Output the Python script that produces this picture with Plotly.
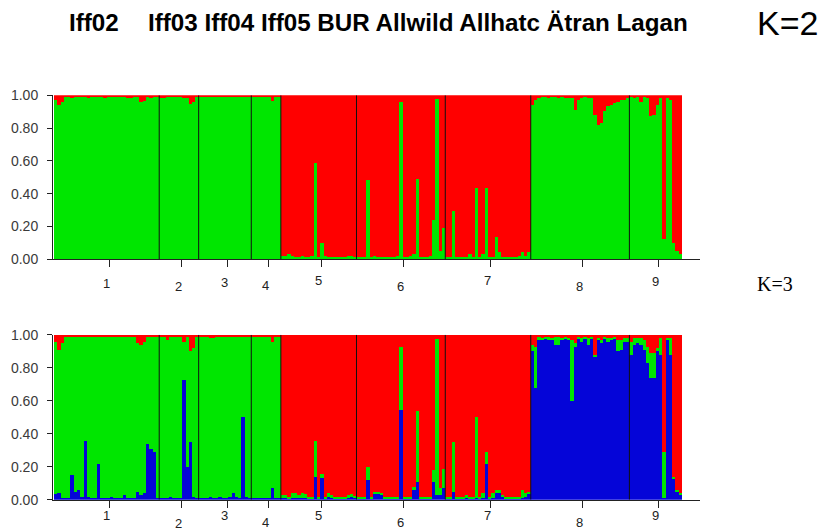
import plotly.graph_objects as go

# Population labels and sample sizes (individuals per population)
pop_labels = ["1", "2", "3", "4", "5", "6", "7", "8", "9"]
pop_sizes = [32, 12, 16, 9, 23, 27, 26, 30, 16]

# K=2: membership in the green cluster (red = remainder)
k2_green = [
    [0.97, 0.94, 0.96, 0.99, 0.99, 0.98, 0.99, 0.99, 0.99, 0.99,
     0.98, 0.99, 0.99, 0.99, 0.99, 0.98, 0.99, 0.99, 0.99, 0.99,
     0.99, 0.99, 0.98, 0.98, 0.99, 0.99, 0.96, 0.965, 0.99, 0.98,
     0.99, 0.99],
    [0.98, 0.98, 0.99, 0.99, 0.99, 0.99, 0.99, 0.98, 0.98, 0.945, 0.96, 0.99],
    [0.99, 0.99, 0.99, 0.985, 0.985, 0.99, 0.99, 0.99, 0.99, 0.99,
     0.99, 0.99, 0.99, 0.99, 0.99, 0.99],
    [0.99, 0.99, 0.99, 0.99, 0.99, 0.99, 0.965, 0.99, 0.99],
    [0.02, 0.02, 0.03, 0.02, 0.01, 0.01, 0.02, 0.01, 0.01, 0.02,
     0.585, 0.01, 0.10, 0.02, 0.01, 0.01, 0.01, 0.01, 0.01, 0.01,
     0.02, 0.02, 0.01],
    [0.01, 0.01, 0.01, 0.48, 0.01, 0.02, 0.01, 0.01, 0.01, 0.01,
     0.01, 0.01, 0.02, 0.96, 0.01, 0.01, 0.02, 0.03, 0.49, 0.01,
     0.01, 0.01, 0.02, 0.24, 0.975, 0.05, 0.19],
    [0.01, 0.01, 0.29, 0.01, 0.01, 0.01, 0.01, 0.03, 0.01, 0.43,
     0.01, 0.03, 0.43, 0.01, 0.01, 0.135, 0.04, 0.01, 0.01, 0.01,
     0.01, 0.01, 0.02, 0.04, 0.02, 0.045],
    [0.94, 0.97, 0.98, 0.99, 0.99, 0.98, 0.99, 0.99, 0.98, 0.99,
     0.98, 0.98, 0.98, 0.91, 0.97, 0.98, 0.99, 0.98, 0.98, 0.88,
     0.82, 0.83, 0.90, 0.93, 0.94, 0.95, 0.96, 0.97, 0.97, 0.98],
    [0.99, 0.98, 0.99, 0.96, 0.99, 0.98, 0.87, 0.88, 0.94, 0.98,
     0.12, 0.98, 0.97, 0.10, 0.05, 0.03],
]

# K=3: membership in the blue and green clusters (red = remainder)
k3_blue = [
    [0.035, 0.04, 0.01, 0.01, 0.01, 0.15, 0.05, 0.06, 0.02, 0.36,
     0.02, 0.01, 0.01, 0.22, 0.01, 0.01, 0.01, 0.02, 0.01, 0.01,
     0.01, 0.03, 0.01, 0.01, 0.01, 0.05, 0.03, 0.04, 0.34, 0.31,
     0.29, 0.01],
    [0.01, 0.01, 0.01, 0.02, 0.01, 0.01, 0.01, 0.73, 0.20, 0.35, 0.02, 0.01],
    [0.01, 0.01, 0.01, 0.02, 0.01, 0.01, 0.02, 0.01, 0.01, 0.02,
     0.04, 0.02, 0.01, 0.50, 0.02, 0.01],
    [0.01, 0.01, 0.01, 0.01, 0.01, 0.01, 0.07, 0.01, 0.01],
    [0.01, 0.01, 0.01, 0.01, 0.01, 0.01, 0.01, 0.01, 0.01, 0.01,
     0.14, 0.01, 0.13, 0.01, 0.02, 0.01, 0.01, 0.01, 0.01, 0.01,
     0.01, 0.015, 0.01],
    [0.01, 0.01, 0.01, 0.12, 0.01, 0.04, 0.04, 0.03, 0.01, 0.01,
     0.01, 0.01, 0.01, 0.545, 0.01, 0.01, 0.01, 0.06, 0.11, 0.01,
     0.01, 0.01, 0.01, 0.11, 0.03, 0.03, 0.07],
    [0.01, 0.01, 0.05, 0.01, 0.01, 0.01, 0.01, 0.01, 0.01, 0.01,
     0.01, 0.01, 0.22, 0.01, 0.01, 0.04, 0.04, 0.02, 0.01, 0.01,
     0.01, 0.01, 0.01, 0.01, 0.02, 0.04],
    [0.90, 0.68, 0.97, 0.97, 0.98, 0.97, 0.97, 0.94, 0.94, 0.97,
     0.98, 0.97, 0.60, 0.93, 0.98, 0.96, 0.98, 0.94, 0.98, 0.87,
     0.97, 0.95, 0.98, 0.96, 0.97, 0.98, 0.90, 0.91, 0.96, 0.96],
    [0.88, 0.94, 0.95, 0.94, 0.91, 0.83, 0.74, 0.74, 0.90, 0.88,
     0.01, 0.97, 0.88, 0.13, 0.05, 0.03],
]
k3_green = [
    [0.925, 0.87, 0.94, 0.975, 0.975, 0.835, 0.935, 0.925, 0.965, 0.625,
     0.965, 0.975, 0.975, 0.765, 0.975, 0.975, 0.975, 0.965, 0.975, 0.975,
     0.975, 0.955, 0.975, 0.975, 0.975, 0.90, 0.91, 0.92, 0.645, 0.675,
     0.695, 0.975],
    [0.975, 0.975, 0.96, 0.965, 0.975, 0.975, 0.975, 0.23, 0.785, 0.55, 0.90, 0.975],
    [0.975, 0.975, 0.975, 0.96, 0.97, 0.975, 0.965, 0.975, 0.975, 0.965,
     0.945, 0.965, 0.975, 0.485, 0.965, 0.975],
    [0.975, 0.975, 0.975, 0.975, 0.975, 0.975, 0.89, 0.975, 0.975],
    [0.02, 0.02, 0.01, 0.03, 0.03, 0.02, 0.03, 0.025, 0.01, 0.01,
     0.22, 0.01, 0.025, 0.01, 0.02, 0.02, 0.01, 0.01, 0.01, 0.01,
     0.02, 0.02, 0.015],
    [0.01, 0.01, 0.01, 0.08, 0.01, 0.01, 0.01, 0.01, 0.01, 0.01,
     0.01, 0.01, 0.01, 0.385, 0.01, 0.01, 0.01, 0.02, 0.43, 0.01,
     0.01, 0.01, 0.01, 0.07, 0.945, 0.04, 0.12],
    [0.01, 0.01, 0.30, 0.01, 0.01, 0.01, 0.02, 0.01, 0.01, 0.49,
     0.01, 0.03, 0.07, 0.01, 0.03, 0.02, 0.02, 0.01, 0.01, 0.01,
     0.01, 0.01, 0.01, 0.05, 0.02, 0.01],
    [0.04, 0.25, 0.015, 0.01, 0.01, 0.015, 0.01, 0.045, 0.045, 0.01,
     0.01, 0.01, 0.37, 0.02, 0.01, 0.02, 0.01, 0.04, 0.01, 0.01,
     0.01, 0.02, 0.01, 0.02, 0.01, 0.01, 0.07, 0.06, 0.02, 0.02],
    [0.08, 0.04, 0.03, 0.04, 0.06, 0.10, 0.15, 0.15, 0.02, 0.10,
     0.28, 0.01, 0.10, 0.01, 0.01, 0.01],
]

y_ticks = [0.0, 0.2, 0.4, 0.6, 0.8, 1.0]
title_left = "Iff02"
title_right = "Iff03 Iff04 Iff05 BUR Allwild Allhatc Ätran Lagan"

RED = "#FF0000"
GREEN = "#00E600"
BLUE = "#0505D8"

W, H = 821, 530


def flat(groups):
    return [v for g in groups for v in g]


n_ind = sum(pop_sizes)
xs = [i + 0.5 for i in range(n_ind)]
starts = [sum(pop_sizes[:i]) for i in range(len(pop_sizes))]
tick_pos = [s + n / 2 + 0.8 for s, n in zip(starts, pop_sizes)]
boundaries = starts[1:]

g2 = flat(k2_green)
r2 = [1 - g for g in g2]
b3 = flat(k3_blue)
g3 = flat(k3_green)
r3 = [1 - b - g for b, g in zip(b3, g3)]

fig = go.Figure()


def add_bars(vals, color, xa, ya):
    fig.add_trace(go.Bar(
        x=xs, y=vals, width=1.0, marker=dict(color=color, line=dict(width=0)),
        xaxis=xa, yaxis=ya, showlegend=False, hoverinfo="skip"))


add_bars(g2, GREEN, "x", "y")
add_bars(r2, RED, "x", "y")
add_bars(b3, BLUE, "x2", "y2")
add_bars(g3, GREEN, "x2", "y2")
add_bars(r3, RED, "x2", "y2")

# pixel geometry of the two panels
px_left, px_right = 53, 700
scale = 628 / n_ind
x0 = -(54 - px_left) / scale
x1 = x0 + (px_right - px_left) / scale

panel_px = {"1": (90, 259), "2": (337, 507)}


def ydom(top, bottom):
    return [1 - bottom / H, 1 - top / H]


axis_font = dict(family="Liberation Sans, Arial, sans-serif", size=14, color="#3a3a3a")

xcommon = dict(range=[x0, x1], domain=[px_left / W, px_right / W], showgrid=False,
               zeroline=False, showline=True, linecolor="#222222", linewidth=1,
               ticks="outside", ticklen=7, tickcolor="#222222", tickvals=tick_pos,
               showticklabels=False, fixedrange=True)
ycommon = dict(range=[0, 1], showgrid=False, zeroline=False, showline=True,
               linecolor="#222222", linewidth=1, ticks="outside", ticklen=5,
               tickcolor="#222222", tickvals=y_ticks,
               ticktext=[f"{v:.2f}" for v in y_ticks], tickfont=axis_font,
               ticklabelstandoff=6, fixedrange=True)

fig.update_layout(
    width=W, height=H, margin=dict(l=0, r=0, t=0, b=0),
    paper_bgcolor="white", plot_bgcolor="white",
    barmode="stack", bargap=0, showlegend=False,
    xaxis=dict(xcommon, anchor="y"),
    yaxis=dict(ycommon, anchor="x", domain=ydom(*panel_px["1"])),
    xaxis2=dict(xcommon, anchor="y2"),
    yaxis2=dict(ycommon, anchor="x2", domain=ydom(*panel_px["2"])),
)

# population separators
shapes = []
for xr, yr in (("x", "y"), ("x2", "y2")):
    for b in boundaries:
        shapes.append(dict(type="line", xref=xr, yref=yr, x0=b, x1=b, y0=0, y1=1,
                           line=dict(color="#111111", width=1)))
fig.update_layout(shapes=shapes)

# staggered population numbers under each panel
label_drop = {"y": [24, 27, 23, 26, 21, 27, 21, 27, 22],
              "y2": [16, 24, 16, 23, 16, 23, 16, 23, 16]}
ann = []
for xr, yr in (("x", "y"), ("x2", "y2")):
    for t, lab, d in zip(tick_pos, pop_labels, label_drop[yr]):
        ann.append(dict(x=t, y=0, xref=xr, yref=yr, text=lab, showarrow=False,
                        xanchor="center", yanchor="middle", xshift=-3, yshift=-d,
                        font=dict(family="Liberation Sans, Arial, sans-serif",
                                  size=13, color="#222222")))

title_font = dict(family="Liberation Sans, Arial, sans-serif", size=24.2, color="#000000")
title_y = 1 - 15 / H
ann.append(dict(x=67 / W, y=title_y, xref="paper", yref="paper", text=f"<b>{title_left}</b>",
                showarrow=False, xanchor="left", yanchor="middle", font=title_font))
ann.append(dict(x=146 / W, y=title_y, xref="paper", yref="paper", text=f"<b>{title_right}</b>",
                showarrow=False, xanchor="left", yanchor="middle", font=title_font))
ann.append(dict(x=755 / W, y=title_y, xref="paper", yref="paper", text="K=2",
                showarrow=False, xanchor="left", yanchor="middle",
                font=dict(family="Liberation Sans, Arial, sans-serif", size=34, color="#000000")))
ann.append(dict(x=755 / W, y=1 - 285 / H, xref="paper", yref="paper", text="K=3",
                showarrow=False, xanchor="left", yanchor="middle",
                font=dict(family="Liberation Serif, Times New Roman, serif", size=20, color="#000000")))
fig.update_layout(annotations=ann)

fig.write_html("out.html")
